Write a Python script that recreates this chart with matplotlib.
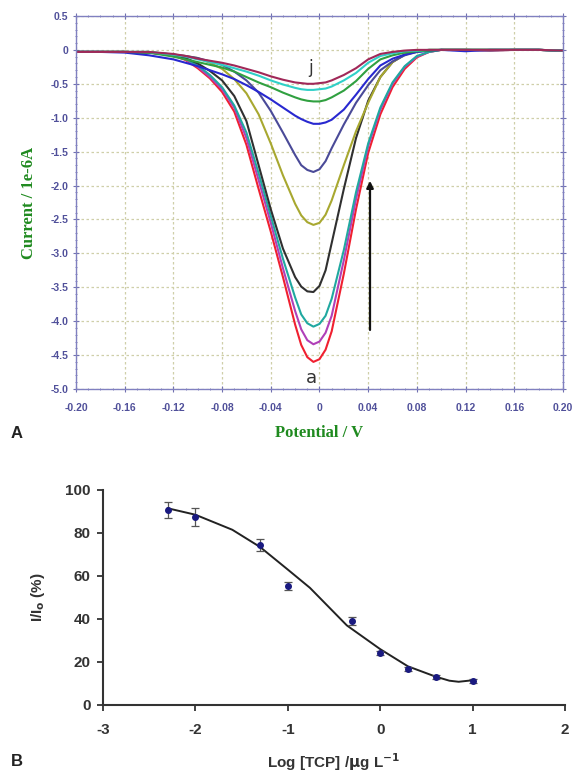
import matplotlib.pyplot as plt
import numpy as np

plt.rcParams['axes.unicode_minus'] = False

# ---------------- panel A data ----------------
potential = [-0.20, -0.18, -0.16, -0.14, -0.12, -0.11, -0.10, -0.09, -0.08, -0.07,
             -0.06, -0.05, -0.04, -0.03, -0.02, -0.015, -0.01, -0.005, 0.00, 0.005,
             0.01, 0.02, 0.03, 0.04, 0.05, 0.06, 0.07, 0.08, 0.09, 0.10, 0.12,
             0.14, 0.16, 0.18, 0.20]

cur_a = [-0.03, -0.03, -0.03, -0.04, -0.08, -0.15, -0.27, -0.42, -0.62, -0.91,
         -1.40, -2.05, -2.68, -3.35, -4.05, -4.35, -4.53, -4.60, -4.56, -4.42,
         -4.15, -3.30, -2.35, -1.52, -0.95, -0.55, -0.28, -0.11, -0.03, 0.00, 0.00,
         -0.01, 0.00, 0.00, -0.01]
cur_b = [-0.03, -0.03, -0.03, -0.04, -0.08, -0.14, -0.25, -0.40, -0.58, -0.85,
         -1.30, -1.92, -2.55, -3.22, -3.85, -4.12, -4.28, -4.34, -4.30, -4.17,
         -3.92, -3.10, -2.20, -1.42, -0.88, -0.50, -0.25, -0.10, -0.03, 0.00, 0.00,
         0.00, 0.00, 0.00, -0.01]
cur_c = [-0.03, -0.03, -0.03, -0.03, -0.07, -0.13, -0.23, -0.37, -0.55, -0.82,
         -1.22, -1.82, -2.45, -3.08, -3.65, -3.90, -4.03, -4.08, -4.04, -3.92,
         -3.67, -2.95, -2.10, -1.38, -0.85, -0.48, -0.24, -0.09, -0.03, 0.00, 0.00,
         0.00, 0.00, 0.00, -0.01]
cur_d = [-0.03, -0.03, -0.03, -0.04, -0.07, -0.12, -0.20, -0.31, -0.45, -0.68,
         -1.05, -1.70, -2.35, -2.93, -3.35, -3.49, -3.56, -3.57, -3.48, -3.25,
         -2.85, -2.05, -1.30, -0.75, -0.40, -0.18, -0.07, -0.02, 0.00, 0.00, 0.00,
         0.00, 0.00, 0.00, -0.01]
cur_e = [-0.03, -0.03, -0.03, -0.04, -0.07, -0.09, -0.12, -0.19, -0.28, -0.43,
         -0.64, -0.95, -1.38, -1.85, -2.27, -2.44, -2.54, -2.58, -2.55, -2.43,
         -2.22, -1.70, -1.20, -0.78, -0.40, -0.18, -0.07, -0.02, 0.00, 0.00, 0.00,
         0.00, 0.00, 0.00, -0.01]
cur_f = [-0.03, -0.03, -0.03, -0.04, -0.07, -0.09, -0.12, -0.17, -0.22, -0.32,
         -0.45, -0.63, -0.90, -1.22, -1.55, -1.70, -1.77, -1.80, -1.76, -1.64,
         -1.45, -1.10, -0.78, -0.52, -0.30, -0.17, -0.08, -0.03, -0.01, 0.00, 0.00,
         -0.01, 0.00, 0.00, -0.01]
cur_g = [-0.03, -0.03, -0.04, -0.08, -0.14, -0.19, -0.24, -0.30, -0.36, -0.43,
         -0.52, -0.62, -0.73, -0.85, -0.97, -1.02, -1.06, -1.09, -1.09, -1.07,
         -1.03, -0.88, -0.66, -0.43, -0.23, -0.13, -0.07, -0.03, -0.01, 0.00, -0.02,
         0.00, 0.00, 0.00, -0.01]
cur_h = [-0.03, -0.03, -0.03, -0.04, -0.10, -0.14, -0.18, -0.22, -0.26, -0.32,
         -0.40, -0.48, -0.55, -0.63, -0.70, -0.73, -0.75, -0.76, -0.76, -0.74,
         -0.70, -0.60, -0.46, -0.28, -0.14, -0.08, -0.04, -0.02, -0.01, 0.00, 0.00,
         0.00, 0.00, 0.00, -0.01]
cur_i = [-0.03, -0.03, -0.03, -0.03, -0.07, -0.10, -0.14, -0.18, -0.22, -0.27,
         -0.32, -0.38, -0.45, -0.51, -0.56, -0.58, -0.59, -0.59, -0.58, -0.57,
         -0.54, -0.45, -0.34, -0.19, -0.09, -0.05, -0.02, -0.01, 0.00, 0.00, 0.00,
         0.00, 0.00, 0.00, -0.01]
cur_j = [-0.03, -0.03, -0.03, -0.03, -0.06, -0.09, -0.13, -0.16, -0.19, -0.23,
         -0.28, -0.33, -0.39, -0.44, -0.48, -0.49, -0.50, -0.50, -0.49, -0.48,
         -0.45, -0.37, -0.27, -0.14, -0.06, -0.03, -0.01, 0.00, 0.00, 0.00, 0.00,
         0.00, 0.00, 0.00, -0.01]

curves = [cur_a, cur_b, cur_c, cur_d, cur_e, cur_f, cur_g, cur_h, cur_i, cur_j]
colors = ['#f02030', '#b040b8', '#20a8a0', '#303030', '#a8a830',
          '#4a4a98', '#2828d0', '#30a040', '#30d0c8', '#a02858']

# ---------------- panel B data ----------------
log_tcp = [-2.3, -2.0, -1.3, -1.0, -0.3, 0.0, 0.3, 0.6, 1.0]
ratio = [90.7, 87.4, 74.4, 55.3, 39.0, 24.2, 16.7, 13.0, 11.2]
ratio_err = [3.7, 4.0, 3.0, 2.0, 2.0, 1.0, 1.0, 1.0, 0.8]

fit_x = [-2.3, -2.0, -1.6, -1.3, -1.0, -0.76, -0.36, 0.0, 0.3, 0.6, 0.75, 0.85, 1.0]
fit_y = [91.5, 88.5, 81.5, 73.5, 63.0, 54.5, 37.0, 26.0, 18.0, 13.2, 11.3, 10.8, 11.5]

fig = plt.figure(figsize=(5.77, 7.79), dpi=100)

# ================= panel A =================
axA = fig.add_axes([0.1317, 0.5006, 0.844, 0.4789])
for c, col in zip(curves, colors):
    axA.plot(potential, c, color=col, lw=1.5)

axA.set_xlim(-0.20, 0.20)
axA.set_ylim(-5.0, 0.5)
xt = np.arange(-0.20, 0.201, 0.04)
axA.set_xticks(xt)
axA.set_xticklabels(['-0.20', '-0.16', '-0.12', '-0.08', '-0.04', '0',
                     '0.04', '0.08', '0.12', '0.16', '0.20'])
yt = np.arange(-5.0, 0.51, 0.5)
axA.set_yticks(yt)
axA.set_yticklabels(['-5.0', '-4.5', '-4.0', '-3.5', '-3.0', '-2.5', '-2.0',
                     '-1.5', '-1.0', '-0.5', '0', '0.5'])
axA.set_xticks(np.arange(-0.20, 0.201, 0.01), minor=True)
axA.set_yticks(np.arange(-5.0, 0.51, 0.1), minor=True)
axA.grid(True, which='major', color='#cfcfa8', lw=0.9, linestyle=(0, (2, 2)))
for s in axA.spines.values():
    s.set_color('#8080c0')
    s.set_linewidth(1.0)
axA.tick_params(which='both', direction='inout', top=True, right=True,
                color='#7070b0', labelcolor='#50509a')
axA.tick_params(which='major', length=4, labelsize=7.5)
axA.tick_params(axis='x', which='major', pad=8)
axA.tick_params(which='minor', length=2)
for lab in axA.get_xticklabels() + axA.get_yticklabels():
    lab.set_fontweight('bold')
    lab.set_family('Liberation Sans')

axA.set_xlabel('Potential / V', color='#1f8a1f', fontsize=12, fontweight='bold',
               family='Liberation Serif', labelpad=9)
axA.set_ylabel('Current / 1e-6A', color='#1f8a1f', fontsize=12, fontweight='bold',
               family='Liberation Serif', labelpad=10)

axA.text(-0.007, -0.27, 'j', fontsize=12, color='#333333', ha='center', va='center')
axA.text(-0.007, -4.84, 'a', fontsize=13, color='#333333', ha='center', va='center')
axA.annotate('', xy=(0.0415, -1.89), xytext=(0.0415, -4.17),
             arrowprops=dict(arrowstyle='-|>', color='#111111', lw=1.6, mutation_scale=10))

fig.text(0.018, 0.444, 'A', fontsize=12, fontweight='bold', family='Liberation Sans',
         ha='left', va='center', color='#222222')

# ================= panel B =================
axB = fig.add_axes([0.1785, 0.095, 0.8005, 0.276])
axB.plot(fit_x, fit_y, color='#222222', lw=1.4)
axB.errorbar(log_tcp, ratio, yerr=ratio_err, fmt='o', color='#1a1a80', ms=4,
             ecolor='#555555', elinewidth=0.9, capsize=3, capthick=0.9)

axB.set_xlim(-3, 2)
axB.set_ylim(0, 100)
axB.set_xticks([-3, -2, -1, 0, 1, 2])
axB.set_yticks([0, 20, 40, 60, 80, 100])
axB.spines['top'].set_visible(False)
axB.spines['right'].set_visible(False)
for s in ['left', 'bottom']:
    axB.spines[s].set_linewidth(1.5)
    axB.spines[s].set_color('#333333')
axB.tick_params(direction='out', length=4, width=1.3, color='#333333',
                labelsize=11, labelcolor='#333333', pad=5)
axB.tick_params(axis='x', pad=9)
for lab in axB.get_xticklabels() + axB.get_yticklabels():
    lab.set_fontweight('bold')
    lab.set_family('Liberation Sans')

axB.set_xlabel('Log [TCP] /$\\mathbf{\\mu}$g L$^{\\mathbf{-1}}$', fontsize=11, fontweight='bold',
               family='Liberation Sans', color='#333333', labelpad=10)
axB.set_ylabel('I/I$_{\\mathbf{o}}$ (%)', fontsize=11, fontweight='bold',
               family='Liberation Sans', color='#333333', labelpad=13)

fig.text(0.018, 0.022, 'B', fontsize=12, fontweight='bold', family='Liberation Sans',
         ha='left', va='center', color='#222222')

fig.savefig('out.png', dpi=100)
